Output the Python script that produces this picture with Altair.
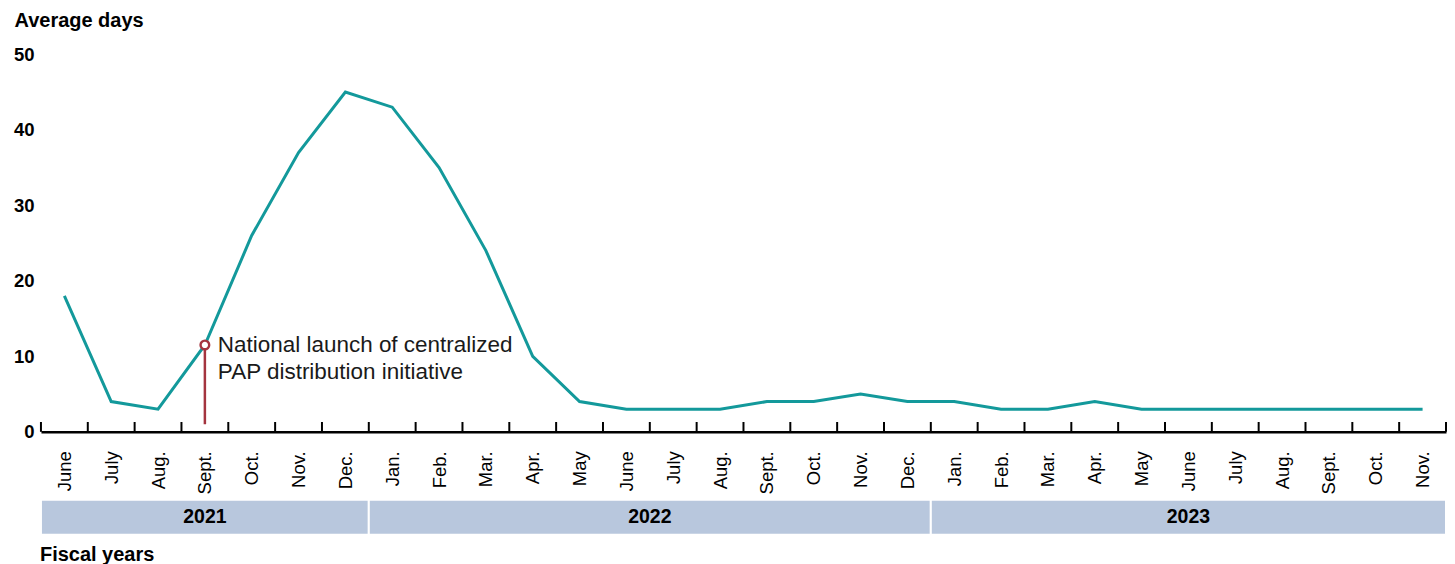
import altair as alt
import pandas as pd

months = ["June", "July", "Aug.", "Sept.", "Oct.", "Nov.", "Dec.",
          "Jan.", "Feb.", "Mar.", "Apr.", "May", "June", "July", "Aug.", "Sept.", "Oct.", "Nov.", "Dec.",
          "Jan.", "Feb.", "Mar.", "Apr.", "May", "June", "July", "Aug.", "Sept.", "Oct.", "Nov."]
values = [18, 4, 3, 11.5, 26, 37, 45,
          43, 35, 24, 10, 4, 3, 3, 3, 4, 4, 5, 4,
          4, 3, 3, 4, 3, 3, 3, 3, 3, 3, 3]
years = ["2021", "2022", "2023"]
year_start = [0, 7, 19]
year_end = [7, 19, 30]
annot_index = 3
annot_value = 11.5
annot_low = 1
annot_lines = ["National launch of centralized", "PAP distribution initiative"]
y_ticks = [0, 10, 20, 30, 40, 50]

FONT = "Liberation Sans"
TEAL = "#13999b"
RED = "#a4343f"
BAND = "#b8c7dd"

n = len(months)
df = pd.DataFrame({"pos": [i + 0.5 for i in range(n)], "days": values})
edges = pd.DataFrame({"edge": list(range(n + 1))})
annot = pd.DataFrame({"pos": [annot_index + 0.5], "days": [annot_value], "low": [annot_low],
                      "label": [annot_lines]})
band_df = pd.DataFrame({"year": years, "start": year_start, "end": year_end})

xscale = alt.Scale(domain=[0, n], nice=False, zero=False)
yscale = alt.Scale(domain=[0, 50], nice=False)

label_expr = "[" + ",".join("'" + m + "'" for m in months) + "][floor(datum.value)]"

xaxis = alt.Axis(values=[i + 0.5 for i in range(n)], labelExpr=label_expr, labelAngle=270,
                 labelFontSize=18.5, labelColor="black", labelFont=FONT, ticks=False, tickSize=0,
                 labelPadding=19, domainColor="black", domainWidth=2.5, grid=False, title=None,
                 labelFlush=False, labelOverlap=False)
yaxis = alt.Axis(values=y_ticks, labelFontSize=18.5, labelFontWeight="bold", labelColor="black",
                 labelFont=FONT, ticks=False, tickSize=0, domain=False, grid=False, labelPadding=7,
                 title="Average days", titleAngle=0, titleAlign="left", titleBaseline="alphabetic",
                 titleX=-27, titleY=-28, titleFontSize=20, titleFontWeight="bold",
                 titleColor="black", titleFont=FONT)

base = alt.Chart(df)
line = base.mark_line(color=TEAL, strokeWidth=3).encode(
    x=alt.X("pos:Q", scale=xscale, axis=xaxis),
    y=alt.Y("days:Q", scale=yscale, axis=yaxis),
)

tick_marks = alt.Chart(edges).transform_calculate(y0="0", y1="1.3").mark_rule(
    color="black", strokeWidth=2).encode(
    x=alt.X("edge:Q", scale=xscale),
    y=alt.Y("y0:Q", scale=yscale),
    y2="y1:Q",
)

a_base = alt.Chart(annot)
a_rule = a_base.mark_rule(color=RED, strokeWidth=2.5).encode(
    x=alt.X("pos:Q", scale=xscale), y=alt.Y("days:Q", scale=yscale), y2="low:Q")
a_point = a_base.mark_point(shape="circle", filled=True, fill="white", stroke=RED,
                            strokeWidth=2.4, size=75, opacity=1).encode(
    x=alt.X("pos:Q", scale=xscale), y=alt.Y("days:Q", scale=yscale))
a_text = a_base.mark_text(align="left", baseline="alphabetic", dx=13, dy=7, fontSize=22.5,
                          lineHeight=27, font=FONT, color="#1a1a1a").encode(
    x=alt.X("pos:Q", scale=xscale), y=alt.Y("days:Q", scale=yscale), text="label")

top = alt.layer(line, tick_marks, a_rule, a_point, a_text).properties(width=1407, height=378)

bscale = alt.Scale(domain=[0, n], nice=False, zero=False)
band = alt.Chart(band_df).mark_rect(color=BAND, stroke="white", strokeWidth=2).encode(
    x=alt.X("start:Q", scale=bscale, axis=None), x2="end:Q")
band_text = alt.Chart(band_df).transform_calculate(mid="(datum.start + datum.end) / 2").mark_text(
    fontSize=19.5, fontWeight="bold", color="black", font=FONT, baseline="middle").encode(
    x=alt.X("mid:Q", scale=bscale, axis=None), text="year:N")
bottom = alt.layer(band, band_text).properties(
    width=1407, height=35,
    title=alt.TitleParams("Fiscal years", orient="bottom", anchor="start", fontSize=20,
                          fontWeight="bold", color="black", font=FONT, offset=9))

chart = alt.vconcat(top, bottom, spacing=68, bounds="flush").resolve_scale(x="independent").properties(
    padding={"left": 5, "top": 2, "right": 0, "bottom": 0}
).configure(font=FONT).configure_view(stroke=None)

chart.save("out.html", embed_options={"renderer": "svg", "actions": False})
